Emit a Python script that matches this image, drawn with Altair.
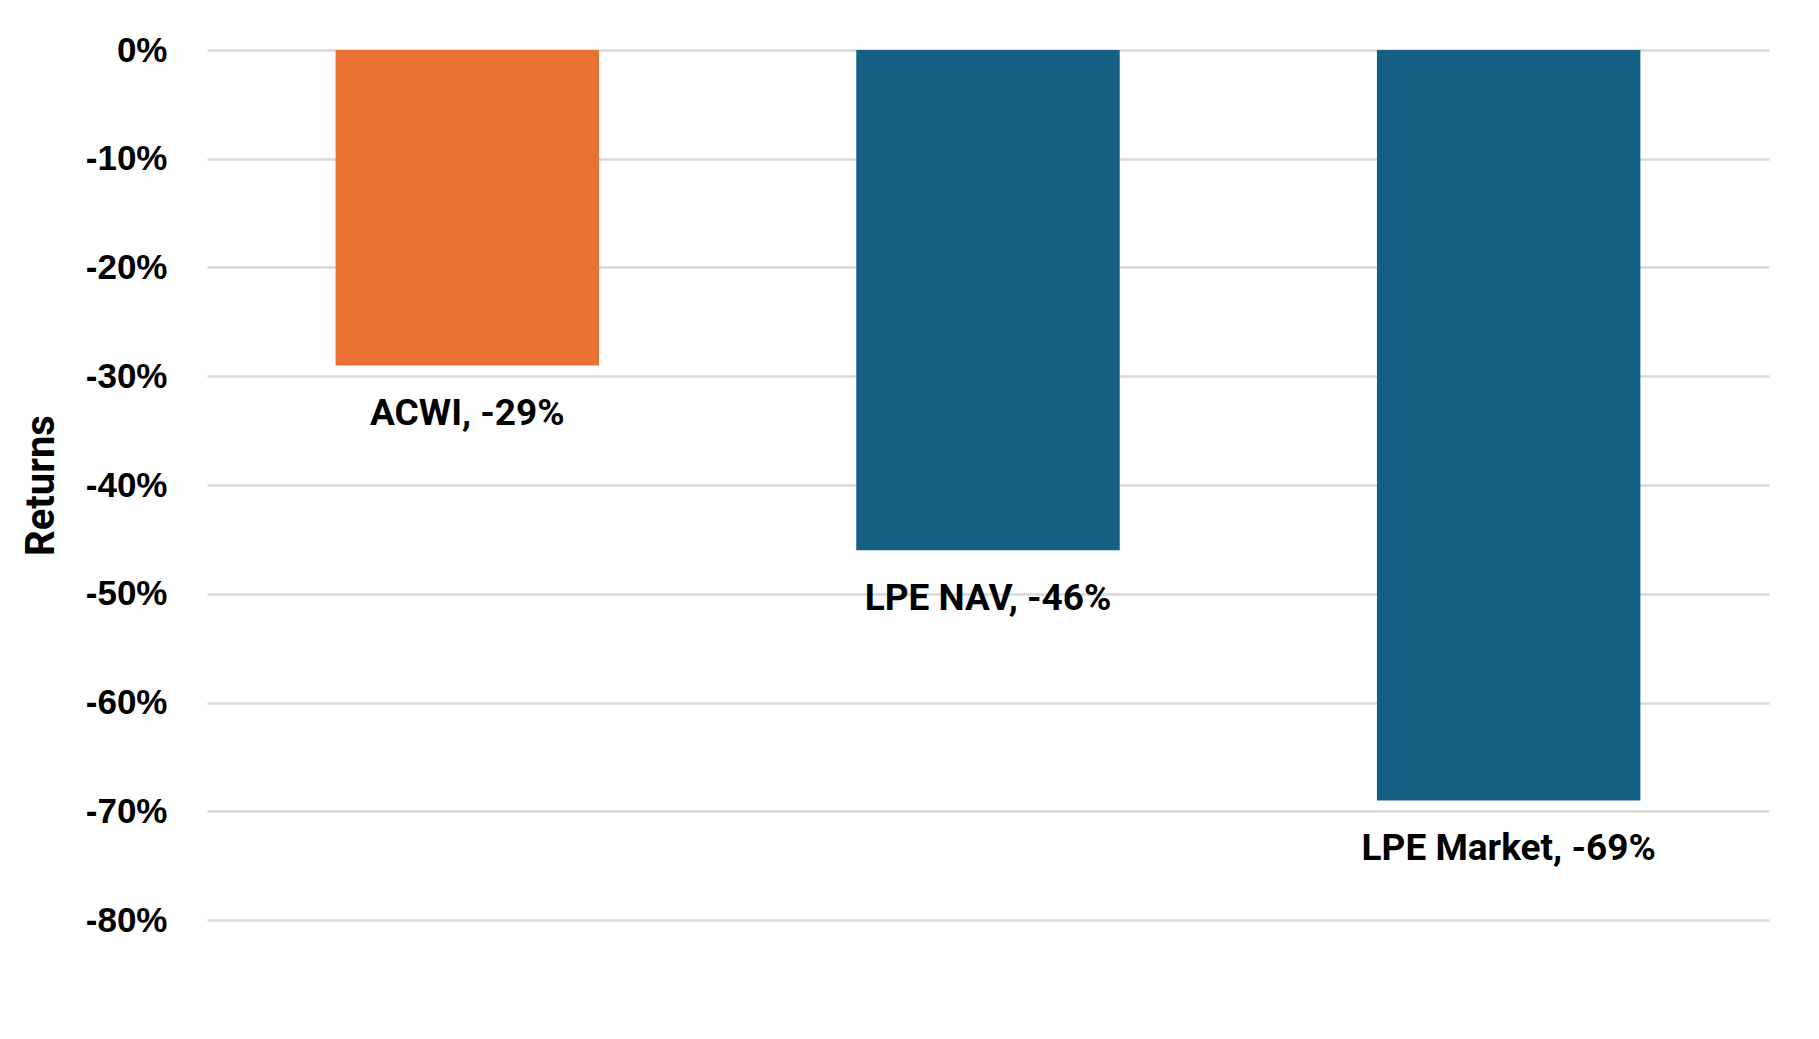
import altair as alt
import pandas as pd

categories = ["ACWI", "LPE NAV", "LPE Market"]
returns = [-0.29, -0.46, -0.69]
labels = ["ACWI, -29%", "LPE NAV, -46%", "LPE Market, -69%"]
colors = ["#E97132", "#156082", "#156082"]
y_ticks = [0, -0.1, -0.2, -0.3, -0.4, -0.5, -0.6, -0.7, -0.8]

df = pd.DataFrame({"cat": categories, "ret": returns, "label": labels, "color": colors})

W, H = 1562, 870

base = alt.Chart(df).encode(
    x=alt.X("cat:N", sort=categories, axis=None,
            scale=alt.Scale(paddingInner=0.494, paddingOuter=0.247)),
)

bars = base.mark_bar(cornerRadius=0).encode(
    y=alt.Y("ret:Q",
            scale=alt.Scale(domain=[-0.8, 0], nice=False),
            axis=alt.Axis(title="Returns", values=y_ticks,
                          labelExpr="(datum.value < -0.0001 ? '-' : '') + format(abs(datum.value), '.0%')",
                          labelFont="Liberation Sans", labelFontSize=35, labelFontWeight="bold",
                          labelColor="#000000", labelPadding=40, ticks=False, tickSize=0,
                          domain=False, grid=True, gridColor="#D9D9D9", gridWidth=2.5,
                          titleFont="Roboto", titleFontSize=40, titleFontWeight="bold",
                          titleColor="#000000", titleAngle=270, titleX=-166, titleY=H / 2,
                          titleAlign="center", titleBaseline="middle")),
    y2=alt.datum(0),
    color=alt.Color("color:N", scale=None),
)

text = base.mark_text(font="Roboto", fontSize=37, fontWeight="bold", color="#000000",
                      baseline="middle", align="center", dy=49).encode(
    y=alt.Y("ret:Q"),
    text="label:N",
)

chart = alt.layer(bars, text).properties(
    width=W, height=H,
    autosize=alt.AutoSizeParams(type="none"),
    padding={"left": 199, "top": 42, "right": 42, "bottom": 111},
).configure(background="#FFFFFF").configure_view(stroke=None, strokeWidth=0)

chart.save("out.html", embed_options={"renderer": "svg", "actions": False})
